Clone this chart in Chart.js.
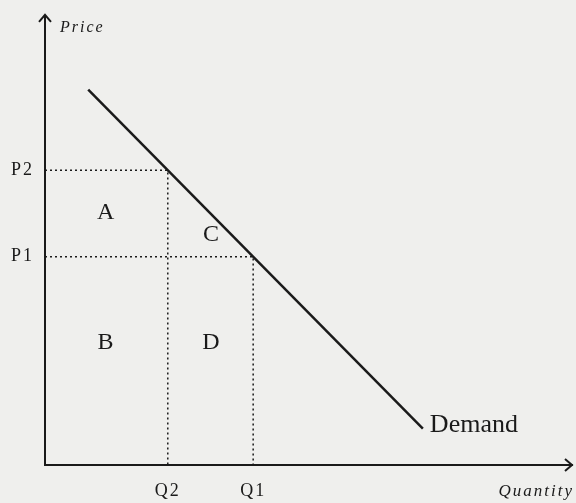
<!DOCTYPE html>
<html>
<head>
<meta charset="utf-8">
<script src="https://cdn.jsdelivr.net/npm/chart.js@4"></script>
<style>
  html, body { margin: 0; padding: 0; background: #efefed; }
  #wrap { width: 576px; height: 503px; }
</style>
</head>
<body>
<div id="wrap"><canvas id="chart" width="576" height="503"></canvas></div>
<script>

// values (axis units 0..10)
const quantityTicks = [2.33, 3.95];
const quantityLabels = ["Q2", "Q1"];
const priceTicks = [4.7, 6.65];
const priceLabels = ["P1", "P2"];
const demandX = [0.82, 7.17];
const demandY = [8.47, 0.82];
const areaNames = ["A", "B", "C", "D"];
const areaX = [1.15, 1.15, 3.15, 3.15];
const areaY = [5.7, 2.75, 5.2, 2.75];

const INK = "#1a1a1a";
const SERIF = "'Liberation Serif', 'DejaVu Serif', serif";

function dottedGuide(q, p) {
  return {
    data: [{ x: 0, y: p }, { x: q, y: p }, { x: q, y: 0 }],
    showLine: true,
    borderColor: INK,
    borderWidth: 1.5,
    borderDash: [2, 3],
    pointRadius: 0,
    fill: false,
  };
}

const decorations = {
  id: "decorations",
  beforeDraw(chart) {
    // scanned labels are set with a little tracking
    chart.ctx.letterSpacing = "2px";
  },
  afterDraw(chart) {
    const { ctx, chartArea: a, scales } = chart;
    const xs = scales.x;
    const ys = scales.y;
    ctx.save();
    ctx.strokeStyle = INK;
    ctx.fillStyle = INK;
    ctx.lineWidth = 2;

    // axis extension and arrow heads
    const tip = a.top - 7;
    ctx.beginPath();
    ctx.moveTo(a.left, a.top);
    ctx.lineTo(a.left, tip);
    ctx.moveTo(a.left - 6, tip + 7);
    ctx.lineTo(a.left, tip);
    ctx.lineTo(a.left + 6, tip + 7);
    ctx.moveTo(a.right - 7, a.bottom - 6);
    ctx.lineTo(a.right, a.bottom);
    ctx.lineTo(a.right - 7, a.bottom + 6);
    ctx.stroke();

    // axis names
    ctx.letterSpacing = "2px";
    ctx.font = "italic 16px " + SERIF;
    ctx.textBaseline = "alphabetic";
    ctx.textAlign = "left";
    ctx.fillText("Price", a.left + 15, tip + 17);
    ctx.font = "italic 17px " + SERIF;
    ctx.textAlign = "right";
    ctx.fillText("Quantity", a.right + 2, a.bottom + 31);
    ctx.letterSpacing = "0px";

    // area letters
    ctx.font = "24px " + SERIF;
    ctx.textAlign = "center";
    ctx.textBaseline = "middle";
    areaNames.forEach((name, i) => {
      ctx.fillText(name, xs.getPixelForValue(areaX[i]), ys.getPixelForValue(areaY[i]));
    });

    // demand label at the end of the curve
    ctx.font = "26px " + SERIF;
    ctx.textAlign = "left";
    ctx.fillText("Demand", xs.getPixelForValue(demandX[1]) + 7, ys.getPixelForValue(demandY[1]) - 3);
    ctx.restore();
  },
};

document.addEventListener("DOMContentLoaded", () => {
  const canvas = document.getElementById("chart");

  new Chart(canvas, {
    type: "scatter",
    data: {
      datasets: [
        {
          data: demandX.map((x, i) => ({ x, y: demandY[i] })),
          showLine: true,
          borderColor: INK,
          borderWidth: 2.5,
          pointRadius: 0,
          fill: false,
        },
        dottedGuide(quantityTicks[0], priceTicks[1]),
        dottedGuide(quantityTicks[1], priceTicks[0]),
      ],
    },
    options: {
      responsive: false,
      animation: false,
      layout: { padding: { top: 14, right: 4, left: 0, bottom: 0 } },
      plugins: {
        legend: { display: false },
        tooltip: { enabled: false },
      },
      scales: {
        x: {
          type: "linear",
          min: 0,
          max: 10,
          grid: { display: false, drawTicks: false },
          border: { display: true, color: INK, width: 2 },
          afterBuildTicks: (s) => { s.ticks = quantityTicks.map((v) => ({ value: v })); },
          afterFit: (s) => { s.height = 38; },
          ticks: {
            padding: 15,
            color: INK,
            font: { family: SERIF, size: 18 },
            callback: (v) => quantityLabels[quantityTicks.indexOf(v)],
          },
        },
        y: {
          type: "linear",
          min: 0,
          max: 10,
          grid: { display: false, drawTicks: false },
          border: { display: true, color: INK, width: 2 },
          afterBuildTicks: (s) => { s.ticks = priceTicks.map((v) => ({ value: v })); },
          afterFit: (s) => { s.width = 45; },
          ticks: {
            padding: 11,
            color: INK,
            font: { family: SERIF, size: 18 },
            callback: (v) => priceLabels[priceTicks.indexOf(v)],
          },
        },
      },
    },
    plugins: [decorations],
  });
});
</script>
</body>
</html>
